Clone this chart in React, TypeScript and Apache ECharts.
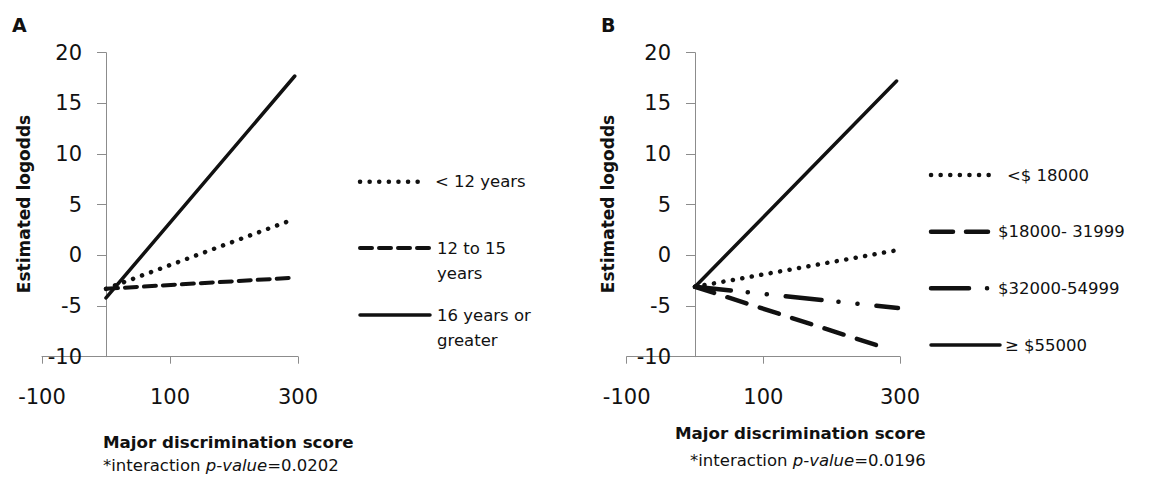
import React, { useEffect, useRef } from "react";
import * as echarts from "echarts";

// ---- data ----
const scoreX = [0, 295];
const aLess12 = [-3.3, 3.6];
const a12to15 = [-3.3, -2.2];
const a16plus = [-4.2, 17.7];

const bLess18kX = [0, 295];
const bLess18k = [-3.1, 0.5];
const b18to32kX = [0, 272];
const b18to32k = [-3.1, -9.0];
const b32to55kX = [0, 297];
const b32to55k = [-3.1, -5.2];
const b55kPlusX = [0, 295];
const b55kPlus = [-3.1, 17.2];

const legendA = ["< 12 years", "12 to 15", "years", "16 years or", "greater"];
const legendB = ["<$ 18000", "$18000- 31999", "$32000-54999", "≥ $55000"];
const pValues = ["0.0202", "0.0196"];
const panelTitles = ["A", "B"];
const yName = "Estimated logodds";
const xName = "Major discrimination score";

const FONT = "'DejaVu Sans', sans-serif";
const INK = "#111";
const AXIS = "#8c8c8c";

const DOT = [0.1, 9.5];
const DASH_A = [12, 7];
const DASH_B = [20, 14];
const DASHDOT_B = [36, 17, 0.1, 19, 0.1, 19];

function pairs(xs: number[], ys: number[]) {
  return xs.map((x, i) => [x, ys[i]]);
}

function makeAxes(idx: number, yOffset: number) {
  return {
    x: {
      type: "value",
      gridIndex: idx,
      min: -100,
      max: 300,
      interval: 200,
      axisLine: { onZero: false, lineStyle: { color: AXIS, width: 1 } },
      axisTick: { show: true, length: 7, lineStyle: { color: AXIS } },
      axisLabel: { fontSize: 21, fontFamily: FONT, color: INK, margin: 30 },
      splitLine: { show: false },
    },
    y: {
      type: "value",
      gridIndex: idx,
      min: -10,
      max: 20,
      interval: 5,
      position: "left",
      offset: yOffset,
      axisLine: { show: true, onZero: false, lineStyle: { color: AXIS, width: 1 } },
      axisTick: { show: true, length: 9, lineStyle: { color: AXIS } },
      axisLabel: { fontSize: 21, fontFamily: FONT, color: INK, margin: 24 },
      splitLine: { show: false },
    },
  };
}

function line(
  name: string,
  idx: number,
  data: number[][],
  type: any,
  width: number
) {
  return {
    name,
    type: "line",
    xAxisIndex: idx,
    yAxisIndex: idx,
    data,
    symbol: "none",
    silent: true,
    lineStyle: { color: INK, width, type, cap: "round" },
  };
}

function legLine(x1: number, x2: number, y: number, dash: any, width: number) {
  return {
    type: "line",
    shape: { x1, y1: y, x2, y2: y },
    style: {
      stroke: INK,
      lineWidth: width,
      lineDash: dash,
      lineCap: "round",
    },
  };
}

function txt(
  text: string,
  x: number,
  y: number,
  size: number,
  opts: any = {}
) {
  return {
    type: "text",
    x,
    y,
    rotation: opts.rotation || 0,
    style: {
      text,
      fontSize: size,
      fontFamily: FONT,
      fontWeight: opts.bold ? "bold" : "normal",
      fill: INK,
      align: opts.align || "left",
      verticalAlign: "middle",
    },
  };
}

function pText(p: string, x: number, y: number) {
  const base = { fontSize: 16.5, fontFamily: FONT, fill: INK, color: INK };
  return {
    type: "text",
    x,
    y,
    style: {
      text: "*interaction {i|p-value}=" + p,
      fontSize: 16.5,
      fontFamily: FONT,
      fill: INK,
      verticalAlign: "middle",
      rich: { i: { ...base, fontStyle: "italic" } },
    },
  };
}

export default function App() {
  const ref = useRef<HTMLDivElement>(null);
  useEffect(() => {
    if (!ref.current) return;
    const chart = echarts.init(ref.current, null, { renderer: "svg" });
    const A = makeAxes(0, -64);
    const B = makeAxes(1, -68.3);
    const option: any = {
      animation: false,
      backgroundColor: "#fff",
      grid: [
        { left: 42, top: 52.7, width: 256, height: 304, containLabel: false, outerBoundsMode: "none" },
        { left: 626.7, top: 52.7, width: 273.3, height: 304, containLabel: false, outerBoundsMode: "none" },
      ],
      xAxis: [A.x, B.x],
      yAxis: [A.y, B.y],
      series: [
        line(legendA[0], 0, pairs(scoreX, aLess12), DOT, 4.5),
        line("12 to 15 years", 0, pairs(scoreX, a12to15), DASH_A, 4),
        line("16 years or greater", 0, pairs(scoreX, a16plus), "solid", 3.5),
        line(legendB[0], 1, pairs(bLess18kX, bLess18k), DOT, 4.5),
        line(legendB[1], 1, pairs(b18to32kX, b18to32k), DASH_B, 4.5),
        line(legendB[2], 1, pairs(b32to55kX, b32to55k), DASHDOT_B, 4.5),
        line(legendB[3], 1, pairs(b55kPlusX, b55kPlus), "solid", 3.5),
      ],
      graphic: [
        txt(panelTitles[0], 12, 25, 19, { bold: true }),
        txt(panelTitles[1], 601, 25, 19, { bold: true }),
        txt(yName, 24, 204, 17, { bold: true, rotation: Math.PI / 2, align: "center" }),
        txt(yName, 608, 204, 17, { bold: true, rotation: Math.PI / 2, align: "center" }),
        txt(xName, 103, 442, 16.7, { bold: true }),
        txt(xName, 675, 433, 16.7, { bold: true }),
        pText(pValues[0], 103, 465),
        pText(pValues[1], 690, 460),
        // legend A
        legLine(360, 421, 181.7, DOT, 4.5),
        txt(legendA[0], 435, 181.7, 16.5),
        legLine(360, 430, 248, DASH_A, 4),
        txt(legendA[1], 437, 248, 16.5),
        txt(legendA[2], 437, 273, 16.5),
        legLine(360, 430, 315, null, 3.5),
        txt(legendA[3], 437, 315, 16.5),
        txt(legendA[4], 437, 340, 16.5),
        // legend B
        legLine(931, 995, 175, DOT, 4.5),
        txt(legendB[0], 1007, 175, 16.5),
        legLine(931, 988, 231.7, [22, 13], 4.5),
        txt(legendB[1], 998, 231.7, 16.5),
        legLine(931, 990, 288.3, [38, 18, 0.1, 20], 4.5),
        txt(legendB[2], 998, 288.3, 16.5),
        legLine(931, 1000, 345, null, 3.5),
        txt(legendB[3], 1005, 345, 16.5),
      ],
    };
    chart.setOption(option);
    return () => chart.dispose();
  }, []);
  return (
    <div
      ref={ref}
      style={{ position: "fixed", left: 0, top: 0, width: 1152, height: 485 }}
    />
  );
}
